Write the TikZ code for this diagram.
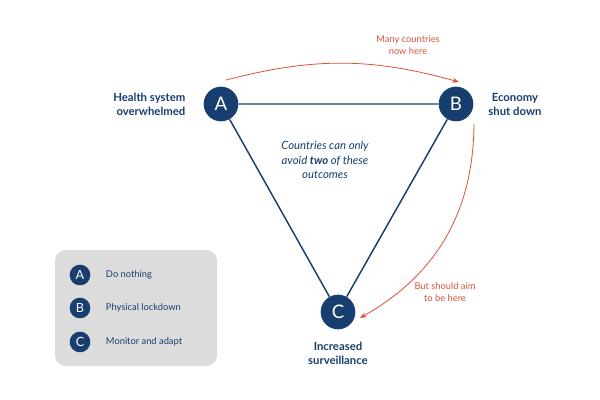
\documentclass[tikz,border=0pt]{standalone}
\usepackage{fontspec}
\setmainfont{Lato}
\usetikzlibrary{arrows.meta,positioning}
\definecolor{navy}{HTML}{173E6E}
\definecolor{warn}{HTML}{D9533A}
\definecolor{panel}{HTML}{DCDCDC}
\tikzset{
  corner/.style={circle, fill=navy, text=white, minimum size=26pt, inner sep=0, font=\fontsize{14}{14}\selectfont},
  key/.style={circle, fill=navy, text=white, minimum size=15.5pt, inner sep=0, font=\fontsize{9.5}{10}\selectfont},
  label/.style={text=navy, font=\bfseries\fontsize{8.5}{10.5}\selectfont, align=center},
  keytext/.style={text=navy, font=\fontsize{7}{8}\selectfont, anchor=west},
  note/.style={text=warn, font=\fontsize{7}{9.5}\selectfont, align=center},
  edge/.style={navy, line width=1.1pt},
  move/.style={warn, line width=0.6pt, -{Stealth[length=5pt]}}
}
\begin{document}
\begin{tikzpicture}[x=0.75pt,y=-0.75pt]
  \useasboundingbox (0,0) rectangle (600,400);
  % corners
  \node[corner] (a) at (221,104) {A};
  \node[corner] (b) at (456,104) {B};
  \node[corner] (c) at (338,312) {C};
  \draw[edge] (a) -- (b) -- (c) -- (a);
  % labels
  \node[label, align=right, anchor=east] (la) at (190,104) {Health system\\overwhelmed};
  \node[label] (lb) at (515,104) {Economy\\shut down};
  \node[label] (lc) at (338,353) {Increased\\surveillance};
  \node[text=navy, font=\itshape\fontsize{8.5}{11}\selectfont, align=center] (mid) at (325,160)
    {Countries can only\\avoid \textbf{two} of these\\outcomes};
  % moves
  \coordinate (s1) at (226,80);
  \coordinate (e1) at (459,82);
  \draw[move] (s1) to[bend left=15] (e1);
  \node[note] (n1) at (408,45) {Many countries\\now here};
  \coordinate (s2) at (474,124);
  \coordinate (e2) at (360,318);
  \draw[move] (s2) to[bend left=30] (e2);
  \node[note] (n2) at (445,292) {But should aim\\to be here};
  % legend
  \fill[panel, rounded corners=8] (55,250) rectangle (217,366);
  \node[key] (ka) at (80,275) {A};
  \node[key] (kb) at (80,308) {B};
  \node[key] (kc) at (80,342) {C};
  \node[keytext, right=8pt of ka] {Do nothing};
  \node[keytext, right=8pt of kb] {Physical lockdown};
  \node[keytext, right=8pt of kc] {Monitor and adapt};
\end{tikzpicture}
\end{document}
